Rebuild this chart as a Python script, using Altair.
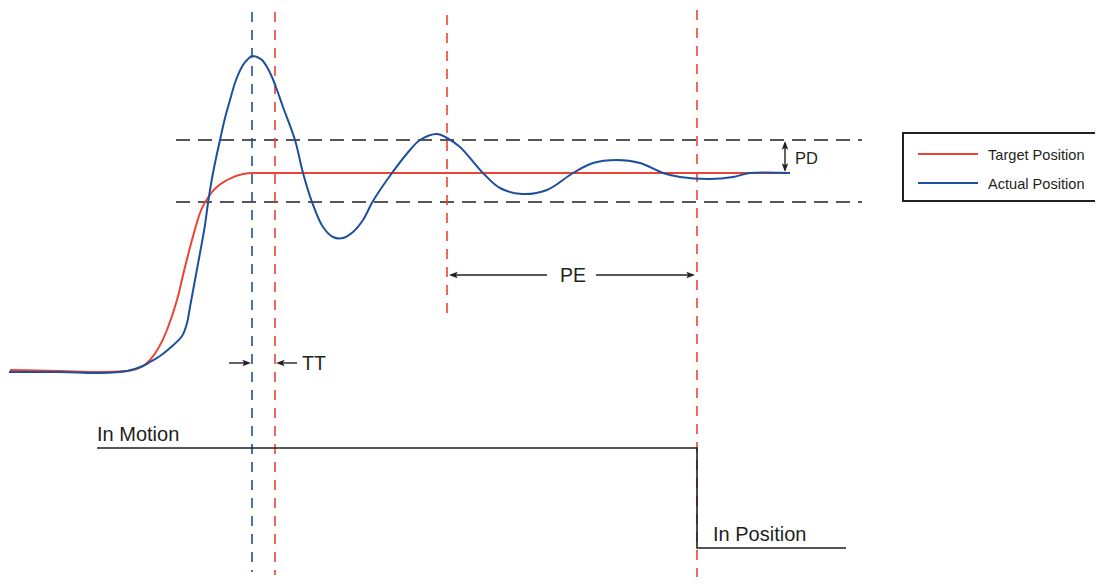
import altair as alt
import pandas as pd

# ---- data (time on x, position on y; y grows downward in this diagram) ----
target_x = [10, 60, 100, 127, 143, 150, 167, 177, 185, 192, 200, 212, 227, 243, 253, 790]
target_y = [370, 371, 372, 371, 366, 360, 330, 300, 267, 240, 213, 192, 180, 174, 173, 173]

actual_x = [9, 60, 100, 127, 143, 150, 160, 170, 182, 187, 190, 195, 200, 205, 208, 213, 220,
            225, 230, 236, 243, 248, 252, 257, 262, 267, 272, 277, 283, 295, 303, 312, 323,
            333, 343, 353, 363, 373, 392, 410, 420, 437, 447, 460, 483, 500, 522, 547, 573,
            593, 617, 640, 663, 680, 710, 733, 750, 790]
actual_y = [372, 372, 373, 371, 366, 362, 356, 348, 336, 323, 307, 280, 253, 225, 203, 173, 140,
            118, 100, 80, 65, 59, 56, 57, 60, 67, 77, 90, 107, 140, 173, 202, 227,
            237, 238, 232, 220, 201, 173, 150, 140, 134, 138, 147, 173, 188, 194, 190, 173,
            163, 160, 163, 173, 177, 179, 177, 173, 173]

band_y = [140, 202]          # position deviation band (PD)
band_x = [176, 862]

vline_x = [252, 275, 447, 697]
vline_top = [12, 12, 15, 10]
vline_bottom = [572, 575, 318, 585]
vline_series = ["actual", "target", "target", "target"]

signal_x = [97, 697, 697, 846]
signal_y = [448, 448, 548, 548]

tt_y = 363
pe_y = 275
pd_x = 785

RED = "#ec4334"
BLUE = "#1c4f9c"
INK = "#231f20"
FONT = "Liberation Sans"

xs = alt.Scale(domain=[8, 1095], nice=False, zero=False)
ys = alt.Scale(domain=[8, 577], nice=False, zero=False, reverse=True)


def X(f="x"):
    return alt.X(f"{f}:Q", scale=xs, axis=None)


def Y(f="y"):
    return alt.Y(f"{f}:Q", scale=ys, axis=None)


layers = []

# horizontal dashed band lines
band_df = pd.DataFrame({"y": band_y, "x": [band_x[0]] * 2, "x2": [band_x[1]] * 2})
layers.append(alt.Chart(band_df).mark_rule(color=INK, strokeWidth=1.6, strokeDash=[14, 8]).encode(
    x=X(), x2="x2:Q", y=Y()))

# vertical dashed markers
vdf = pd.DataFrame({"x": vline_x, "y": vline_top, "y2": vline_bottom, "s": vline_series})
for s, col in [("actual", BLUE), ("target", RED)]:
    layers.append(alt.Chart(vdf[vdf.s == s]).mark_rule(color=col, strokeWidth=1.6, strokeDash=[10, 8],
                                                       clip=True).encode(
        x=X(), y=Y(), y2="y2:Q"))

# curves
tdf = pd.DataFrame({"x": target_x, "y": target_y, "o": range(len(target_x))})
adf = pd.DataFrame({"x": actual_x, "y": actual_y, "o": range(len(actual_x))})
layers.append(alt.Chart(tdf).mark_line(color=RED, strokeWidth=2, interpolate="monotone").encode(
    x=X(), y=Y(), order="o:Q"))
layers.append(alt.Chart(adf).mark_line(color=BLUE, strokeWidth=2, interpolate="catmull-rom").encode(
    x=X(), y=Y(), order="o:Q"))

# in-motion / in-position signal
sdf = pd.DataFrame({"x": signal_x, "y": signal_y, "o": range(4)})
layers.append(alt.Chart(sdf).mark_line(color=INK, strokeWidth=1.6, interpolate="linear").encode(
    x=X(), y=Y(), order="o:Q"))

# arrow shafts
shafts = pd.DataFrame({
    "x": [229, 279, 451, 596, pd_x],
    "x2": [248, 297, 547, 693, pd_x],
    "y": [tt_y, tt_y, pe_y, pe_y, 143],
    "y2": [tt_y, tt_y, pe_y, pe_y, 170],
})
layers.append(alt.Chart(shafts).mark_rule(color=INK, strokeWidth=1.4).encode(
    x=X(), x2="x2:Q", y=Y(), y2="y2:Q"))

# arrow heads
HEAD = "M0,0L-1,-0.38L-0.78,0L-1,0.38Z"
heads = pd.DataFrame({
    "x": [251, 276, 449, 695, pd_x, pd_x],
    "y": [tt_y, tt_y, pe_y, pe_y, 141, 172],
    "a": [0, 180, 180, 0, 270, 90],
})
layers.append(alt.Chart(heads).mark_point(shape=HEAD, filled=True, size=300, color=INK, opacity=1,
                                          strokeWidth=0).encode(
    x=X(), y=Y(), angle=alt.Angle("a:Q", scale=None)))

# labels
labels = pd.DataFrame({
    "x": [302, 573, 795, 97, 713],
    "y": [tt_y + 7, pe_y + 7, 164, 441, 541],
    "t": ["TT", "PE", "PD", "In Motion", "In Position"],
    "sz": [19.5, 19.5, 16.5, 20, 20],
    "al": ["left", "center", "left", "left", "left"],
})
for al in ["left", "center"]:
    sub = labels[labels.al == al]
    layers.append(alt.Chart(sub).mark_text(align=al, baseline="alphabetic", font=FONT, color=INK).encode(
        x=X(), y=Y(), text="t:N", size=alt.Size("sz:Q", scale=None)))

# legend box
box = pd.DataFrame({"x": [903], "x2": [1115], "y": [133], "y2": [201]})
layers.append(alt.Chart(box).mark_rect(fill="white", stroke=INK, strokeWidth=2, clip=True).encode(
    x=X(), x2="x2:Q", y=Y(), y2="y2:Q"))
leg = pd.DataFrame({"x": [918, 918], "x2": [978, 978], "y": [154, 183], "s": ["target", "actual"]})
layers.append(alt.Chart(leg[leg.s == "target"]).mark_rule(color=RED, strokeWidth=2).encode(
    x=X(), x2="x2:Q", y=Y()))
layers.append(alt.Chart(leg[leg.s == "actual"]).mark_rule(color=BLUE, strokeWidth=2).encode(
    x=X(), x2="x2:Q", y=Y()))
legt = pd.DataFrame({"x": [988, 988], "y": [160, 189], "t": ["Target Position", "Actual Position"]})
layers.append(alt.Chart(legt).mark_text(align="left", baseline="alphabetic", font=FONT, fontSize=14.6,
                                        color=INK, clip=True).encode(x=X(), y=Y(), text="t:N"))

chart = alt.layer(*layers).properties(
    width=1087, height=569, padding=0, background="white",
    autosize=alt.AutoSizeParams(type="none"),
).configure_view(strokeWidth=0, stroke=None)

chart.save("out.html", embed_options={"renderer": "svg", "actions": False})
